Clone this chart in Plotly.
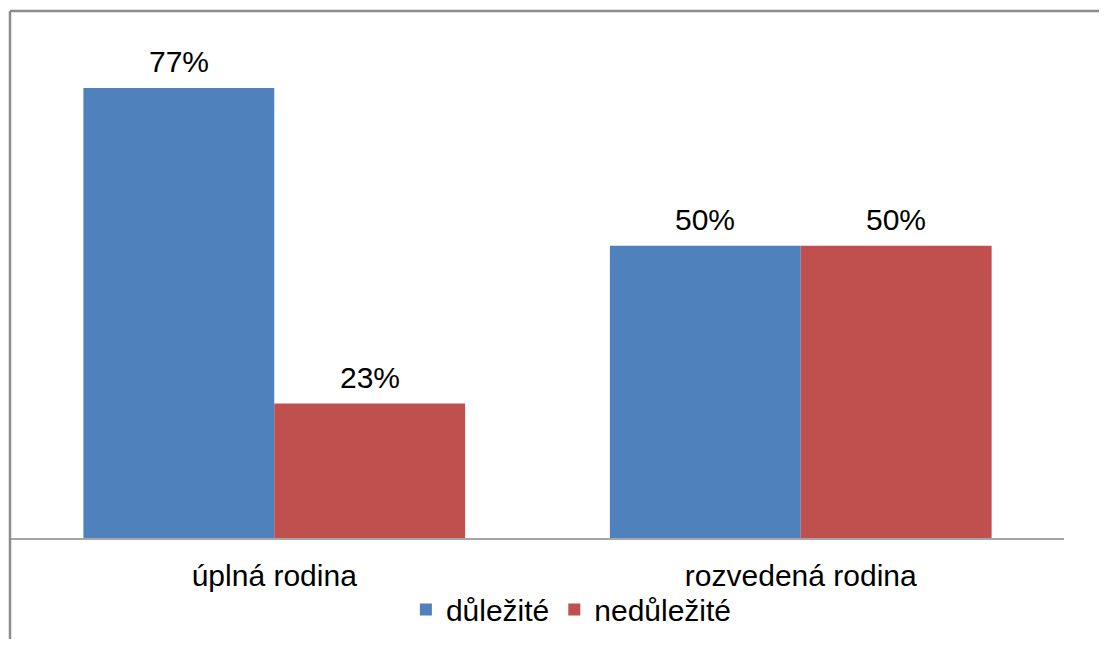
import plotly.graph_objects as go

categories = ["úplná rodina", "rozvedená rodina"]
series_names = ["důležité", "nedůležité"]
dulezite = [77, 50]
nedulezite = [23, 50]
colors = ["#4F81BD", "#C0504D"]

# page body has an 8px margin, so the figure is a bit smaller than the window
W, H = 1091, 631
MARGIN = dict(l=3, r=35, t=4, b=98)
BARGAP = 0.275
FONT = "Liberation Sans"  # no serif face is available here
FSIZE = 30

fig = go.Figure()
for name, vals, col in zip(series_names, [dulezite, nedulezite], colors):
    fig.add_trace(go.Bar(x=categories, y=vals, name=name, marker=dict(color=col, line=dict(width=0))))

# value labels above the bars (a bit higher than plotly's own outside text)
bar_w = (1 - BARGAP) / len(series_names)
for j, vals in enumerate([dulezite, nedulezite]):
    for i, v in enumerate(vals):
        fig.add_annotation(
            x=i + (j - (len(series_names) - 1) / 2) * bar_w, y=v,
            text=f"{v}%", showarrow=False, yanchor="bottom", yshift=8,
            font=dict(size=FSIZE, color="black", family=FONT),
        )

# chart border (left and top edges visible)
pw = W - MARGIN["l"] - MARGIN["r"]
ph = H - MARGIN["t"] - MARGIN["b"]
border = dict(color="#8c8c8c", width=2.5)
fig.add_shape(type="line", xref="paper", yref="paper",
              x0=-1 / pw, x1=-1 / pw, y0=(ph + 1) / ph, y1=-MARGIN["b"] / ph - 0.05, line=border)
fig.add_shape(type="line", xref="paper", yref="paper",
              x0=-1 / pw, x1=(W - MARGIN["l"]) / pw, y0=(ph + 1) / ph, y1=(ph + 1) / ph, line=border)

fig.update_layout(
    width=W, height=H,
    margin=MARGIN,
    barmode="group", bargap=BARGAP, bargroupgap=0,
    paper_bgcolor="white", plot_bgcolor="white",
    font=dict(family=FONT, size=FSIZE, color="black"),
    showlegend=True,
    legend=dict(orientation="h", x=0.375, xanchor="left", y=-0.136, yanchor="middle",
                bgcolor="rgba(0,0,0,0)",
                font=dict(size=FSIZE, family=FONT), itemwidth=30, tracegroupgap=0),
    xaxis=dict(showline=True, linecolor="#a6a6a6", linewidth=1.5, ticks="", showgrid=False,
               tickfont=dict(size=FSIZE, family=FONT), ticklabelstandoff=10),
    yaxis=dict(range=[0, 90], visible=False, showgrid=False),
)

fig.write_html("out.html")
